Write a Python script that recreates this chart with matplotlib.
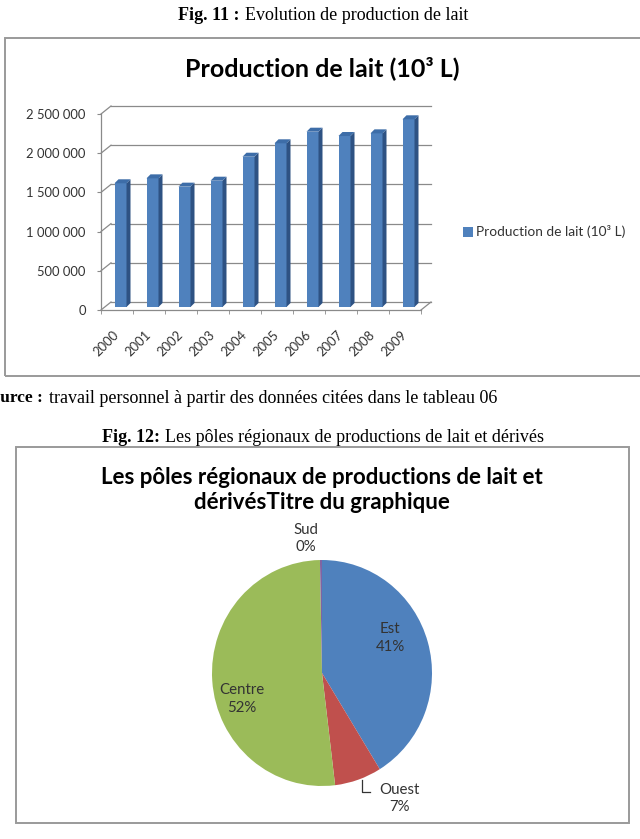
import matplotlib
matplotlib.use("Agg")
import matplotlib.pyplot as plt
from matplotlib.patches import Rectangle, Polygon
import numpy as np

# ---------------- data ----------------
years = ["2000", "2001", "2002", "2003", "2004", "2005", "2006", "2007", "2008", "2009"]
production = [1578000, 1641000, 1535000, 1611000, 1917000, 2088000, 2236000, 2181000, 2215000, 2394000]
y_ticks = [0, 500000, 1000000, 1500000, 2000000, 2500000]
y_tick_labels = ["0", "500 000", "1 000 000", "1 500 000", "2 000 000", "2 500 000"]
series_name = "Production de lait (10³ L)"

regions = ["Est", "Ouest", "Centre", "Sud"]
shares = [41.2, 6.9, 51.6, 0.3]

# ---------------- styles ----------------
W, H = 640, 839
SANS = ["Lato", "DejaVu Sans"]
SERIF = ["Liberation Serif", "DejaVu Serif"]
grid_c = "#8a8a8a"
front_c = "#4F81BD"
side_c = "#2E5283"
top_c = "#3D6DA8"
pie_colors = ["#4F81BD", "#C0504D", "#9BBB59", "#8064A2"]
box_c = "#9a9a9a"
txt_c = "#333333"

fig = plt.figure(figsize=(W / 100, H / 100), dpi=100)


def fx(px):
    return px / W


def fy(py):
    return 1 - py / H


# ---------------- captions ----------------
fig.text(fx(240), fy(15), "Fig. 11 :", ha="right", va="center", family=SERIF,
         fontsize=13, fontweight="bold")
fig.text(fx(245), fy(15), "Evolution de production de lait", ha="left", va="center",
         family=SERIF, fontsize=13)
fig.text(fx(43), fy(398), "Source :", ha="right", va="center", family=SERIF,
         fontsize=12.5, fontweight="bold")
fig.text(fx(49), fy(398), "travail personnel à partir des données citées dans le tableau 06",
         ha="left", va="center", family=SERIF, fontsize=13)
fig.text(fx(160), fy(437), "Fig. 12:", ha="right", va="center", family=SERIF,
         fontsize=13, fontweight="bold")
fig.text(fx(165), fy(437), "Les pôles régionaux de productions de lait et dérivés",
         ha="left", va="center", family=SERIF, fontsize=13)
fig.text(fx(51), fy(851), "Mohamed KACI ; Yacine SASS, Ouaiza 22", ha="left", va="baseline",
         family=SERIF, fontsize=13)

# ---------------- boxes ----------------
fig.patches.append(Rectangle((fx(5), fy(376)), fx(650) - fx(5), fy(38) - fy(376),
                             transform=fig.transFigure, fill=False, ec=box_c, lw=1.4))
fig.patches.append(Rectangle((fx(16), fy(823)), fx(629) - fx(16), fy(447) - fy(823),
                             transform=fig.transFigure, fill=False, ec=box_c, lw=1.4))

# ---------------- bar chart ----------------
fig.text(fx(322), fy(68), series_name, ha="center", va="center", family=SANS,
         fontsize=18, fontweight="bold")

ax = fig.add_axes([fx(101), fy(310), 320 / W, 196 / H])
n = len(years)
ax.set_xlim(-0.5, n - 0.5)
ax.set_ylim(0, y_ticks[-1])
ax.patch.set_alpha(0)
for s in ["top", "right"]:
    ax.spines[s].set_visible(False)
for s in ["left", "bottom"]:
    ax.spines[s].set_color(grid_c)
    ax.spines[s].set_linewidth(0.9)

ppx = ax.bbox.width / n
ppy = ax.bbox.height / y_ticks[-1]


def dxu(px):
    return px / ppx


def dyu(py):
    return py / ppy


wx, wy = dxu(10), dyu(8)
for t in y_ticks:
    ax.plot([-0.5, -0.5 + wx], [t, t + wy], color=grid_c, lw=0.9, clip_on=False, zorder=1)
    ax.plot([-0.5 + wx, n - 0.5 + wx], [t + wy, t + wy], color=grid_c, lw=0.9,
            clip_on=False, zorder=1)
ax.plot([n - 0.5, n - 0.5 + wx], [0, wy], color=grid_c, lw=0.9, clip_on=False, zorder=1)

x = np.arange(n)
bw = 0.375
ox, oy = dxu(3.5), dyu(3)
ddx, ddy = dxu(4), dyu(4)
bars = ax.bar(x + ox, production, width=bw, bottom=oy, color=front_c, zorder=3,
              clip_on=False, label=series_name)
for xi, v in zip(x, production):
    xl = xi + ox - bw / 2
    xr = xi + ox + bw / 2
    b = oy
    t = oy + v
    ax.add_patch(Polygon([(xr, b), (xr, t), (xr + ddx, t + ddy), (xr + ddx, b + ddy)],
                         closed=True, fc=side_c, ec="none", zorder=3, clip_on=False))
    ax.add_patch(Polygon([(xl, t), (xr, t), (xr + ddx, t + ddy), (xl + ddx, t + ddy)],
                         closed=True, fc=top_c, ec="none", zorder=3, clip_on=False))

ax.set_yticks(y_ticks)
ax.set_yticklabels(y_tick_labels)
ax.tick_params(axis="y", length=3, color=grid_c, pad=8, labelsize=9.4, labelcolor=txt_c)
ax.set_xticks(x)
ax.set_xticklabels(years, rotation=45, ha="right", va="center", rotation_mode="anchor",
                   family=SANS)
for lbl in ax.get_yticklabels():
    lbl.set_family(SANS)
ax.tick_params(axis="x", which="major", length=0, pad=16.5, labelsize=9.4, labelcolor=txt_c)
ax.set_xticks(np.arange(-0.5, n, 1), minor=True)
ax.tick_params(axis="x", which="minor", length=3, color=grid_c)

ax.legend(handles=[bars], loc="center left", bbox_to_anchor=(fx(463), fy(232)),
          bbox_transform=fig.transFigure, frameon=False, handlelength=0.7,
          handleheight=0.7, handletextpad=0.25, borderpad=0, borderaxespad=0,
          prop={"family": SANS, "size": 9.9}, labelcolor=txt_c)

# ---------------- pie chart ----------------
fig.text(fx(322), fy(490), "Les pôles régionaux de productions de lait et\ndérivésTitre du graphique",
         ha="center", va="center", family=SANS, fontsize=16, fontweight="bold",
         linespacing=1.2)

pax = fig.add_axes([fx(212), fy(786), 220 / W, 226 / H])
pax.pie(shares, colors=pie_colors, startangle=90, counterclock=False,
        wedgeprops=dict(linewidth=0))
pax.set_aspect("auto")
pax.set_xlim(-1, 1)
pax.set_ylim(-1, 1)

total = sum(shares)
label_pos = {"Est": (0.62, 0.31), "Ouest": (0.70, -1.11), "Centre": (-0.73, -0.23),
             "Sud": (-0.15, 1.19)}
for name, v in zip(regions, shares):
    px_, py_ = label_pos[name]
    pax.text(px_, py_, f"{name}\n{round(100 * v / total)}%", ha="center", va="center",
             family=SANS, fontsize=10.8, color=txt_c, linespacing=1.3, clip_on=False)
pax.plot([0.36, 0.36, 0.44], [-0.95, -1.05, -1.05], color=txt_c, lw=0.9, clip_on=False)

fig.savefig("out.png", dpi=100)
